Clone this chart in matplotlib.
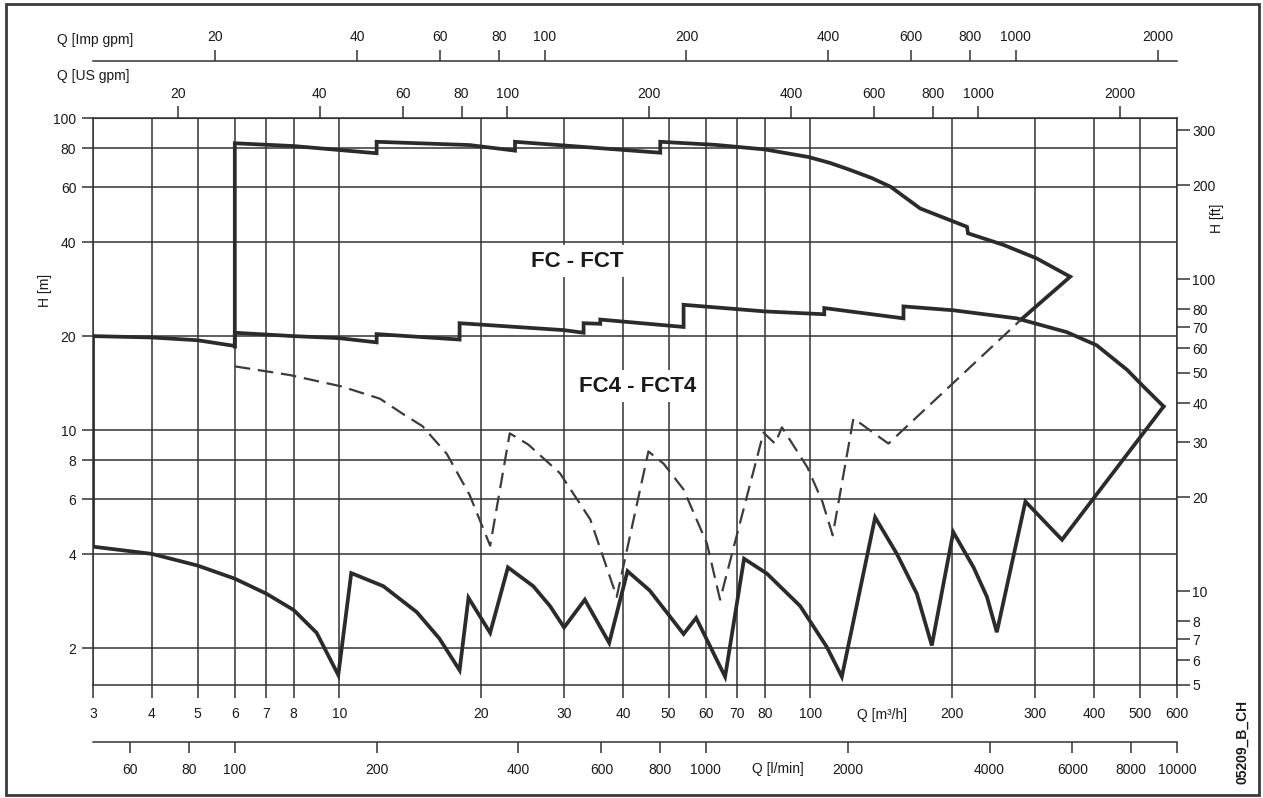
import matplotlib
matplotlib.use('Agg')
import matplotlib.pyplot as plt
from matplotlib.patches import Rectangle
from matplotlib.ticker import NullLocator

plt.rcParams['font.family'] = ['Liberation Sans', 'DejaVu Sans']

# unit factors (1 unit -> m3/h, m -> ft)
M_TO_FT = 3.28084
US_GPM = 0.22712
IMP_GPM = 0.27277
LMIN = 0.06

# axis ticks
q_ticks = [3, 4, 5, 6, 7, 8, 10, 20, 30, 40, 50, 60, 70, 80, 100, 200, 300, 400, 500, 600]
h_ticks = [2, 4, 6, 8, 10, 20, 40, 60, 80, 100]
ft_ticks = [5, 6, 7, 8, 10, 20, 30, 40, 50, 60, 70, 80, 100, 200, 300]
gpm_ticks = [20, 40, 60, 80, 100, 200, 400, 600, 800, 1000, 2000]
lmin_ticks = [60, 80, 100, 200, 400, 600, 800, 1000, 2000, 4000, 6000, 8000, 10000]

# FC - FCT envelope (solid part)
fc_q = [6, 6, 8, 12, 12, 18.9, 23.6, 23.6, 48, 48, 63, 80, 99, 110, 121, 135, 148, 171, 215, 216, 257, 302, 356, 280]
fc_h = [18.5, 83.0, 81.3, 77.1, 83.9, 81.9, 78.6, 83.9, 77.4, 83.9, 82.0, 79.3, 75.0, 71.8, 68.3, 64.2, 60.2, 51.3,
        44.8, 42.7, 39.2, 35.5, 31.0, 22.6]

# FC - FCT lower limit inside FC4 range (dashed)
fcd_q = [6, 7.86, 10.1, 12.2, 13.6, 15.0, 16.9, 18.9, 20.9, 23.0, 25.2, 29.4, 34.1, 38.8, 45.3, 48.8, 53.8, 60.3, 64.3,
         79.5, 84.1, 87, 98.5, 106, 111.5, 123.4, 146.4, 280]
fcd_h = [16.0, 15.0, 13.8, 12.6, 11.3, 10.3, 8.4, 6.2, 4.26, 9.76, 8.98, 7.27, 5.17, 2.92, 8.54, 7.8, 6.45, 4.33, 2.86,
         9.81, 9.05, 10.2, 7.6, 5.9, 4.6, 10.9, 9.05, 22.6]

# FC4 - FCT4 envelope, upper edge
fc4u_q = [3, 4, 5, 6, 6, 8, 10, 12, 12, 18, 18, 30, 33, 33, 35.8, 35.8, 53.8, 53.8, 80, 107, 107, 157.6, 157.6,
          201, 274, 350, 405, 470, 509, 562]
fc4u_h = [20.0, 19.8, 19.4, 18.6, 20.5, 20.0, 19.7, 19.1, 20.3, 19.5, 22.0, 20.9, 20.5, 22.0, 21.9, 22.6, 21.4, 25.2,
          24.0, 23.5, 24.6, 22.8, 24.9, 24.2, 22.8, 20.6, 18.7, 15.6, 13.8, 11.9]

# FC4 - FCT4 envelope, lower edge
fc4l_q = [3, 3, 4, 5, 6, 7, 8, 8.95, 9.95, 10.6, 12.4, 14.6, 16.3, 18.0, 18.8, 20.9, 22.8, 25.8, 28.0, 30, 33.2, 37.4,
          40.9, 45.6, 50.4, 53.8, 57.2, 65.9, 72.3, 80.8, 95.1, 108.3, 116.6, 137.2, 152.6, 168.2, 181, 201, 222, 237,
          248.7, 286, 342, 562]
fc4l_h = [20.0, 4.23, 4.01, 3.68, 3.34, 2.99, 2.65, 2.24, 1.64, 3.48, 3.16, 2.61, 2.15, 1.70, 2.90, 2.24, 3.63, 3.16,
          2.73, 2.33, 2.86, 2.08, 3.53, 3.06, 2.52, 2.22, 2.50, 1.62, 3.87, 3.47, 2.73, 2.02, 1.62, 5.25, 4.01, 2.99,
          2.04, 4.71, 3.63, 2.92, 2.25, 5.90, 4.45, 11.9]

W, H = 1263, 798
L, R, T, B = 93, 1177, 118, 685
fig = plt.figure(figsize=(W / 100, H / 100), dpi=100)
ax = fig.add_axes([L / W, 1 - B / H, (R - L) / W, (B - T) / H])
ax.set_xscale('log')
ax.set_yscale('log')
ax.set_xlim(3, 600)
ax.set_ylim(5 / M_TO_FT, 100)

grid_c = '#333333'
txt_c = '#1a1a1a'
curve_c = '#2b2b2b'

ax.set_xticks(q_ticks, labels=[str(v) for v in q_ticks])
ax.set_yticks(h_ticks, labels=[str(v) for v in h_ticks])
ax.xaxis.set_minor_locator(NullLocator())
ax.yaxis.set_minor_locator(NullLocator())
ax.grid(True, which='major', color=grid_c, lw=1.1)
ax.set_axisbelow(True)
ax.tick_params(axis='x', direction='out', length=9, width=1.1, color=grid_c, labelsize=10, labelcolor=txt_c, pad=7)
ax.tick_params(axis='y', direction='out', length=8, width=1.1, color=grid_c, labelsize=10, labelcolor=txt_c, pad=4)
for s in ax.spines.values():
    s.set_color(grid_c)
    s.set_linewidth(1.1)

ax.plot(fc_q, fc_h, color=curve_c, lw=2.7, solid_joinstyle='miter', zorder=4)
ax.plot(fc4u_q, fc4u_h, color=curve_c, lw=2.7, solid_joinstyle='miter', zorder=4)
ax.plot(fc4l_q, fc4l_h, color=curve_c, lw=2.7, solid_joinstyle='miter', zorder=4)
ax.plot(fcd_q, fcd_h, color='#3c3c3c', lw=1.6, dashes=(7, 3.5), zorder=4)

ax.text(32.0, 34.8, 'FC - FCT', fontsize=16, fontweight='bold', ha='center', va='center', color=txt_c,
        bbox=dict(facecolor='white', edgecolor='none', pad=4), zorder=3)
ax.text(42.9, 13.8, 'FC4 - FCT4', fontsize=16, fontweight='bold', ha='center', va='center', color=txt_c,
        bbox=dict(facecolor='white', edgecolor='none', pad=4), zorder=3)

# right axis in feet
ft = ax.secondary_yaxis('right', functions=(lambda h: h * M_TO_FT, lambda f: f / M_TO_FT))
ft.set_yticks(ft_ticks, labels=[str(v) for v in ft_ticks])
ft.yaxis.set_minor_locator(NullLocator())
ft.tick_params(direction='out', length=9, width=1.1, color=grid_c, labelsize=10, labelcolor=txt_c, pad=2)
ft.spines['right'].set_visible(False)

# top axes: US gpm and Imp gpm
us = ax.secondary_xaxis('top', functions=(lambda q: q / US_GPM, lambda g: g * US_GPM))
us.set_xticks(gpm_ticks, labels=[str(v) for v in gpm_ticks])
us.xaxis.set_minor_locator(NullLocator())
us.tick_params(direction='out', length=9, width=1.1, color=grid_c, labelsize=10, labelcolor=txt_c, pad=3)
for s in us.spines.values():
    s.set_color(grid_c)

imp = ax.secondary_xaxis(1 + (T - 61) / (B - T), functions=(lambda q: q / IMP_GPM, lambda g: g * IMP_GPM))
imp.set_xticks(gpm_ticks, labels=[str(v) for v in gpm_ticks])
imp.xaxis.set_minor_locator(NullLocator())
imp.tick_params(direction='out', length=8, width=1.1, color=grid_c, labelsize=10, labelcolor=txt_c, pad=4)
for s in imp.spines.values():
    s.set_color(grid_c)
    s.set_linewidth(1.1)

# bottom extra axis: l/min
lm = ax.secondary_xaxis(-(742 - B) / (B - T), functions=(lambda q: q / LMIN, lambda v: v * LMIN))
lm.set_xticks(lmin_ticks, labels=[str(v) for v in lmin_ticks])
lm.xaxis.set_minor_locator(NullLocator())
lm.tick_params(direction='out', length=8, width=1.1, color=grid_c, labelsize=10, labelcolor=txt_c, pad=7)
for s in lm.spines.values():
    s.set_color(grid_c)
    s.set_linewidth(1.1)

# axis names
def ftext(x, y, s, **kw):
    fig.text(x / W, 1 - y / H, s, fontsize=10, color=txt_c, **kw)

ftext(57, 40, 'Q [Imp gpm]', ha='left', va='center')
ftext(57, 76, 'Q [US gpm]', ha='left', va='center')
ftext(45, 290, 'H [m]', ha='center', va='center', rotation=90)
ftext(1217, 218, 'H [ft]', ha='center', va='center', rotation=90)
ftext(882, 715, 'Q [m³/h]', ha='center', va='center')
ftext(778, 769, 'Q [l/min]', ha='center', va='center')
ftext(1242, 742, '05209_B_CH', ha='center', va='center', rotation=90, fontweight='bold')

fig.patches.append(Rectangle((6 / W, 1 - 795 / H), (1259 - 6) / W, (795 - 4) / H, transform=fig.transFigure,
                             fill=False, lw=2, edgecolor='#3a3a3a'))

fig.savefig('out.png', dpi=100)
